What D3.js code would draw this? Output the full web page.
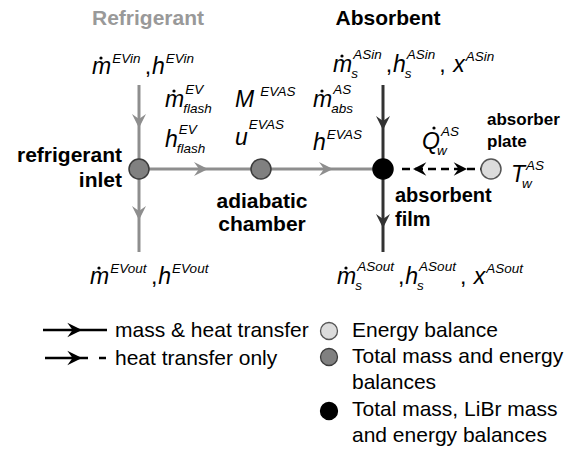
<!DOCTYPE html>
<html><head><meta charset="utf-8">
<script src="https://cdn.jsdelivr.net/npm/d3@7"></script>
</head><body><svg id="c" width="577" height="454"></svg>
<script>
// ---------- data ----------
const streams = ["Refrigerant", "Absorbent"];
const nodes = ["refrigerant inlet", "adiabatic chamber", "absorbent film", "absorber plate"];
const nodeBalance = ["mass+energy", "mass+energy", "mass+LiBr+energy", "energy"];
const flowLabels = [
  {id: "EVin",  terms: [{b: "m", dot: 1, sup: "EVin"}, {sep: ","}, {b: "h", sup: "EVin"}]},
  {id: "flashM", terms: [{b: "m", dot: 1, sup: "EV", sub: "flash"}]},
  {id: "flashH", terms: [{b: "h", sup: "EV", sub: "flash"}]},
  {id: "MEVAS", terms: [{b: "M", sup: "EVAS", gap: 6}]},
  {id: "uEVAS", terms: [{b: "u", sup: "EVAS", supUp: 16}]},
  {id: "mabs", terms: [{b: "m", dot: 1, sup: "AS", sub: "abs"}]},
  {id: "hEVAS", terms: [{b: "h", sup: "EVAS"}]},
  {id: "ASin", terms: [{b: "m", dot: 1, sup: "ASin", sub: "s"}, {sep: ","}, {b: "h", sup: "ASin", sub: "s"}, {sep: ", "}, {b: "x", sup: "ASin"}]},
  {id: "Qw", terms: [{b: "Q", dotQ: 1, sup: "AS", sub: "w"}]},
  {id: "Tw", terms: [{b: "T", sup: "AS", sub: "w", supUp: 12}]},
  {id: "EVout", terms: [{b: "m", dot: 1, sup: "EVout"}, {sep: ","}, {b: "h", sup: "EVout"}]},
  {id: "ASout", terms: [{b: "m", dot: 1, sup: "ASout", sub: "s"}, {sep: ","}, {b: "h", sup: "ASout", sub: "s"}, {sep: ", "}, {b: "x", sup: "ASout"}]}
];
const legendLines = ["mass & heat transfer", "heat transfer only"];
const balanceTypes = ["energy", "mass+energy", "mass+LiBr+energy"];
const legendBalances = [["Energy balance"], ["Total mass and energy", "balances"], ["Total mass, LiBr mass", "and energy balances"]];

// ---------- layout / style ----------
const F = "Liberation Sans";
const W = {m:833,h:556,M:833,u:556,x:500,Q:778,T:611,E:667,V:667,A:667,S:667,i:222,n:556,o:556,t:278,s:500,f:278,l:222,a:556,b:556,w:722,",":278," ":278};
const width = (str, size) => [...str].reduce((a, c) => a + (W[c] || 556), 0) * size / 1000;

const root = d3.select("#c").style("overflow", "visible");
const svg = root.append("g").attr("transform", "translate(-8,-8)");
const fillOf = {"energy": "#dcdcdc", "mass+energy": "#808080", "mass+LiBr+energy": "#000"};
const strokeOf = {"energy": "#555", "mass+energy": "#3c3c3c", "mass+LiBr+energy": "#000"};
const REF = "#8e8e8e", ABS = "#333";

const x = d3.scaleOrdinal().domain(nodes).range([139, 261, 383, 491]);
const yFlow = 169;
const streamX = d3.scaleOrdinal().domain(streams).range([139, 383]);
const yV = d3.scaleLinear().domain([0, 1]).range([85, 252]);

function txt(g, t, tx, ty, size, opts = {}) {
  const e = g.append("text").attr("x", tx).attr("y", ty)
    .style("font-family", `"${F}"`).style("font-size", size + "px");
  if (opts.bold) e.style("font-weight", "bold");
  if (opts.italic) e.style("font-style", "italic");
  if (opts.anchor) e.attr("text-anchor", opts.anchor);
  if (opts.fill) e.attr("fill", opts.fill);
  return e.text(t);
}

function arrow(g, tx, ty, angle, color, s = 1) {
  g.append("path")
    .attr("d", `M0,0 L${-14*s},${-7*s} L${-9*s},0 L${-14*s},${7*s} Z`)
    .attr("transform", `translate(${tx},${ty}) rotate(${angle})`)
    .attr("fill", color);
}

const vColors = {Refrigerant: REF, Absorbent: ABS};
streams.forEach(s => {
  svg.append("line").attr("x1", streamX(s)).attr("x2", streamX(s))
    .attr("y1", yV(0)).attr("y2", yV(1))
    .attr("stroke", vColors[s]).attr("stroke-width", 3);
});
svg.append("line").attr("x1", x(nodes[0])).attr("x2", x(nodes[2]))
  .attr("y1", yFlow).attr("y2", yFlow).attr("stroke", REF).attr("stroke-width", 3);
svg.append("line").attr("x1", 402).attr("x2", x(nodes[3]) - 10)
  .attr("y1", yFlow).attr("y2", yFlow).attr("stroke", "#000").attr("stroke-width", 2.5)
  .attr("stroke-dasharray", "8,5");

arrow(svg, streamX("Refrigerant"), 128, 90, REF);
arrow(svg, streamX("Refrigerant"), 220, 90, REF);
arrow(svg, streamX("Absorbent"), 130, 90, ABS);
arrow(svg, streamX("Absorbent"), 228, 90, ABS);
arrow(svg, 208, yFlow, 0, REF);
arrow(svg, 333, yFlow, 0, REF);
arrow(svg, 413, yFlow, 180, "#000", 0.95);
arrow(svg, 467, yFlow, 0, "#000", 0.95);

nodes.forEach((n, i) => {
  svg.append("circle").attr("cx", x(n)).attr("cy", yFlow).attr("r", 10)
    .attr("fill", fillOf[nodeBalance[i]]).attr("stroke", strokeOf[nodeBalance[i]]).attr("stroke-width", 1.5);
});

txt(svg, streams[0], 148, 25, 21, {bold: 1, anchor: "middle", fill: "#999"});
txt(svg, streams[1], 388, 25, 21, {bold: 1, anchor: "middle"});

const nl = nodes.map(n => n.split(" "));
txt(svg, nl[0][0], 122, 162, 21, {bold: 1, anchor: "end"});
txt(svg, nl[0][1], 122, 187, 21, {bold: 1, anchor: "end"});
txt(svg, nl[1][0], 262, 208, 21, {bold: 1, anchor: "middle"});
txt(svg, nl[1][1], 262, 231, 21, {bold: 1, anchor: "middle"});
txt(svg, nl[2][0], 395, 202, 20, {bold: 1});
txt(svg, nl[2][1], 395, 226, 20, {bold: 1});
txt(svg, nl[3][0], 487, 125, 17, {bold: 1});
txt(svg, nl[3][1], 487, 147, 17, {bold: 1});

const labelPos = {
  EVin: [92, 74], flashM: [165, 107], flashH: [165, 147], MEVAS: [235, 107], uEVAS: [235, 145],
  mabs: [313, 107], hEVAS: [313, 150], ASin: [333, 72], Qw: [422, 149], Tw: [511, 182],
  EVout: [90, 284], ASout: [337, 284]
};
const BASE = 23, SMALL = 13.5;
function mathLabel(lab) {
  let [cx, by] = labelPos[lab.id];
  const g = svg.append("g");
  lab.terms.forEach(t => {
    if (t.sep) {
      cx += 4;
      txt(g, t.sep.trim(), cx, by, BASE);
      cx += width(t.sep, BASE) + 1;
      return;
    }
    txt(g, t.b, cx, by, BASE, {italic: 1});
    const w = width(t.b, BASE);
    if (t.dot) g.append("circle").attr("cx", cx + 9).attr("cy", by - 16).attr("r", 1.6).attr("fill", "#000");
    if (t.dotQ) g.append("circle").attr("cx", cx + 12).attr("cy", by - 21).attr("r", 1.6).attr("fill", "#000");
    let sx = cx + w + (t.gap || 1);
    let ex = sx;
    if (t.sup) {
      const up = t.supUp || (t.sub ? 13 : 11);
      txt(g, t.sup, sx, by - up, SMALL, {italic: 1});
      ex = Math.max(ex, sx + width(t.sup, SMALL));
    }
    if (t.sub) {
      const subx = t.b === "m" || t.b === "h" ? sx - 2 : sx - 4;
      txt(g, t.sub, subx, by + 6, SMALL, {italic: 1});
      if (t.sub.length > 1) ex = Math.max(ex, subx + width(t.sub, SMALL));
    }
    cx = ex;
  });
}
flowLabels.forEach(mathLabel);

const ly = d3.scalePoint().domain(legendLines).range([330, 358]);
svg.append("line").attr("x1", 43).attr("x2", 107).attr("y1", ly(legendLines[0])).attr("y2", ly(legendLines[0]))
  .attr("stroke", "#000").attr("stroke-width", 2.5);
arrow(svg, 82, ly(legendLines[0]), 0, "#000", 1.05);
svg.append("line").attr("x1", 45).attr("x2", 88).attr("y1", ly(legendLines[1])).attr("y2", ly(legendLines[1]))
  .attr("stroke", "#000").attr("stroke-width", 2.5);
svg.append("line").attr("x1", 99).attr("x2", 106).attr("y1", ly(legendLines[1])).attr("y2", ly(legendLines[1]))
  .attr("stroke", "#000").attr("stroke-width", 2.5);
arrow(svg, 82, ly(legendLines[1]), 0, "#000", 1.05);
legendLines.forEach(t => txt(svg, t, 115, ly(t) + 7, 21));

const circY = [331, 357, 411];
const lineY = [[337], [363, 389], [416, 442]];
balanceTypes.forEach((bt, i) => {
  svg.append("circle").attr("cx", 329).attr("cy", circY[i]).attr("r", 8.5)
    .attr("fill", fillOf[bt]).attr("stroke", strokeOf[bt]).attr("stroke-width", 1.3);
  legendBalances[i].forEach((t, j) => txt(svg, t, 352, lineY[i][j], 21));
});
</script></body></html>
